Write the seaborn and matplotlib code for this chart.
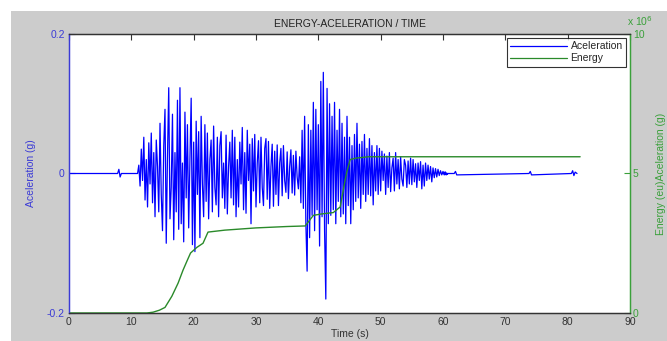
import numpy as np
import pandas as pd
import matplotlib
matplotlib.use("Agg")
import matplotlib.pyplot as plt
from matplotlib.patches import Rectangle
import seaborn as sns

# ---------------- data ----------------
# quiet portion before the event
pre_t = [0.0, 7.8, 8.0, 8.2, 8.4, 10.8]
pre_a = [0.0, 0.0, 0.006, -0.005, 0.0, 0.0]

# active portion, sampled every 0.2 s from 11.0 s
active_start = 11.0
active_step = 0.2
active_a = [
    0.0, 0.012, -0.018, 0.035, -0.01,
    0.052, -0.038, 0.02, -0.048, 0.044,
    -0.015, 0.058, -0.042, 0.03, -0.062,
    0.048, 0.01, -0.055, 0.072, -0.03,
    -0.082, 0.04, 0.092, -0.10, 0.025,
    0.123, -0.065, -0.02, 0.085, -0.095,
    0.03, -0.055, 0.105, -0.08, 0.123,
    -0.072, 0.015, -0.098, 0.088, -0.035,
    0.07, -0.078, 0.02, 0.108, -0.102,
    0.045, -0.112, 0.075, -0.03, 0.06,
    -0.092, 0.082, -0.015, -0.062, 0.07,
    -0.04, 0.058, -0.065, 0.02, 0.048,
    -0.055, 0.068, -0.02, -0.045, 0.052,
    -0.062, 0.04, 0.06, -0.035, 0.015,
    -0.05, 0.055, -0.058, 0.01, 0.045,
    -0.035, 0.062, -0.045, 0.052, -0.062,
    0.02, -0.048, 0.045, -0.015, 0.066,
    -0.052, 0.03, -0.057, 0.062, -0.01,
    0.042, -0.072, 0.05, -0.025, 0.056,
    -0.048, 0.015, 0.047, -0.042, 0.052,
    -0.02, -0.046, 0.036, 0.05, -0.037,
    0.046, -0.05, 0.01, 0.042, -0.047,
    0.032, -0.03, 0.041, -0.046, 0.015,
    0.036, -0.032, 0.04, -0.01, -0.027,
    0.031, -0.036, 0.01, 0.034, -0.028,
    0.026, -0.031, 0.032, -0.005, -0.022,
    0.024, -0.042, 0.062, -0.05, 0.082,
    -0.072, -0.14, 0.07, -0.092, 0.062,
    -0.06, 0.102, -0.082, 0.092, -0.052,
    0.07, -0.104, 0.132, -0.062, 0.145,
    -0.082, -0.18, 0.122, -0.072, 0.10,
    -0.06, 0.082, -0.052, 0.102, -0.072,
    0.062, -0.04, 0.092, -0.062, 0.072,
    -0.058, 0.052, -0.072, 0.082, -0.046,
    0.052, -0.072, 0.04, -0.052, 0.056,
    -0.04, 0.072, -0.035, 0.042, -0.05,
    0.046, -0.03, 0.056, -0.04, 0.036,
    -0.03, 0.05, -0.032, 0.04, -0.045,
    0.03, -0.025, 0.04, -0.03, 0.036,
    -0.025, 0.032, -0.01, 0.028, -0.03,
    0.025, -0.02, 0.03, -0.026, 0.008,
    0.022, -0.025, 0.03, -0.015, 0.02,
    -0.022, 0.024, -0.008, -0.018, 0.02,
    0.012, -0.02, 0.018, -0.015, 0.022,
    -0.016, 0.02, -0.012, 0.014, -0.02,
    0.015, -0.01, 0.017, -0.022, 0.012,
    -0.018, 0.015, -0.01, 0.012, -0.008,
    0.01, -0.012, 0.008, -0.006, 0.007,
    -0.005, 0.006, -0.003, 0.004, -0.002,
    0.003, -0.002, 0.002, -0.001, 0.0,
]

# quiet tail after the event
post_t = [60.0, 60.3, 60.5, 60.8, 61.8, 62.0, 62.2, 73.8, 74.0, 74.2, 80.6, 80.8, 81.0, 81.2, 81.5]
post_a = [0.0, 0.002, -0.002, 0.0, 0.0, 0.003, -0.002, 0.0, 0.003, -0.002, 0.0, 0.004, -0.003, 0.002, 0.0]

# cumulative energy (units of 1e6 eu)
energy_t = [0, 12.5, 13.5, 14.5, 15.4, 16.5, 17.5, 18.3, 19.0, 19.5, 20.5, 21.5,
            22.3, 25, 30, 35, 37.9, 39.2, 40.5, 42.4, 43.5, 44.0, 44.5, 45.1,
            46, 48, 82]
energy_v = [0, 0, 0.03, 0.1, 0.2, 0.6, 1.07, 1.54, 1.9, 2.15, 2.35, 2.5,
            2.9, 2.97, 3.05, 3.1, 3.12, 3.5, 3.55, 3.6, 3.8, 4.4, 5.0, 5.5,
            5.55, 5.6, 5.6]

title = "ENERGY-ACELERATION / TIME"
xlabel = "Time (s)"
ylabel_left = "Aceleration (g)"
ylabel_right = "Energy (eu)Aceleration (g)"
xticks = [0, 10, 20, 30, 40, 50, 60, 70, 80, 90]
yticks_left = [-0.2, 0, 0.2]
yticks_left_labels = ["-0.2", "0", "0.2"]
yticks_right = [0, 5, 10]

# ---------------- build frames ----------------
active_t = active_start + active_step * np.arange(len(active_a))
acc_df = pd.DataFrame({
    "t": np.concatenate([pre_t, active_t, post_t]),
    "a": np.concatenate([pre_a, active_a, post_a]),
})
en_df = pd.DataFrame({"t": energy_t, "e": np.array(energy_v) * 1e6})

# ---------------- style ----------------
sns.set_style("white")
plt.rcParams["font.family"] = ["Liberation Sans", "DejaVu Sans"]
plt.rcParams["font.size"] = 7.5

BLUE = "#0000ff"
BLUE_TXT = "#3b3bd6"
GREEN = "#2a8a2a"
GREEN_TXT = "#3aa03a"
GRAY_BG = "#cccccc"

fig = plt.figure(figsize=(6.67, 3.41), dpi=100)
fig.patch.set_facecolor("white")
fig.patches.append(Rectangle((11 / 667, 0), 1 - 11 / 667, 1 - 11 / 341,
                             transform=fig.transFigure, facecolor=GRAY_BG,
                             edgecolor="none", zorder=-10))

ax = fig.add_axes([69 / 667, 1 - 313 / 341, (630 - 69) / 667, (313 - 34) / 341])
ax.set_facecolor("white")
ax2 = ax.twinx()

sns.lineplot(data=acc_df, x="t", y="a", ax=ax, color=BLUE, linewidth=0.9,
             estimator=None, sort=False, label="Aceleration", legend=False)
sns.lineplot(data=en_df, x="t", y="e", ax=ax2, color=GREEN, linewidth=1.0,
             estimator=None, sort=False, label="Energy", legend=False)

ax.set_xlim(0, 90)
ax.set_ylim(-0.2, 0.2)
ax2.set_ylim(0, 10e6)
ax.set_xticks(xticks)
ax.set_xticklabels([str(v) for v in xticks], color="#333333")
ax.set_yticks(yticks_left)
ax.set_yticklabels(yticks_left_labels, color=BLUE_TXT)
ax2.set_yticks([v * 1e6 for v in yticks_right])
ax2.set_yticklabels([str(v) for v in yticks_right], color=GREEN_TXT)

ax.tick_params(axis="x", direction="in", length=4, width=0.8, top=True,
               color="#333333", pad=3)
ax.tick_params(axis="y", direction="in", length=4, width=0.8, color=BLUE_TXT, pad=3)
ax2.tick_params(axis="y", direction="in", length=4, width=0.8, color=GREEN_TXT, pad=2)

for a in (ax, ax2):
    for s in a.spines.values():
        s.set_visible(True)
        s.set_linewidth(0.9)
ax.spines["top"].set_color("#333333")
ax.spines["bottom"].set_color("#333333")
ax2.spines["top"].set_color("#333333")
ax2.spines["bottom"].set_color("#333333")
ax.spines["left"].set_color(BLUE_TXT)
ax2.spines["left"].set_color(BLUE_TXT)
ax.spines["right"].set_color(GREEN_TXT)
ax2.spines["right"].set_color(GREEN_TXT)

ax.set_xlabel(xlabel, color="#333333", labelpad=1)
ax.set_ylabel(ylabel_left, color=BLUE_TXT, labelpad=8)
ax2.set_ylabel(ylabel_right, color=GREEN_TXT, labelpad=8)
ax.set_title(title, color="#222222", fontsize=7.5, pad=5)

ax2.annotate(r"x 10$^6$", xy=(1.0, 1.0), xycoords="axes fraction",
             xytext=(-2, 4), textcoords="offset points", color=GREEN_TXT,
             fontsize=7.5, ha="left", va="bottom")

h1, l1 = ax.get_legend_handles_labels()
h2, l2 = ax2.get_legend_handles_labels()
leg = ax2.legend(h1 + h2, l1 + l2, loc="upper right", frameon=True, fancybox=False,
                 borderaxespad=0.4, handlelength=5.5, handletextpad=0.3,
                 borderpad=0.3, labelspacing=0.2, fontsize=7.5)
leg.get_frame().set_edgecolor("black")
leg.get_frame().set_linewidth(0.8)
for line in leg.get_lines():
    line.set_linewidth(0.9)

fig.savefig("out.png", dpi=100, facecolor=fig.get_facecolor())
